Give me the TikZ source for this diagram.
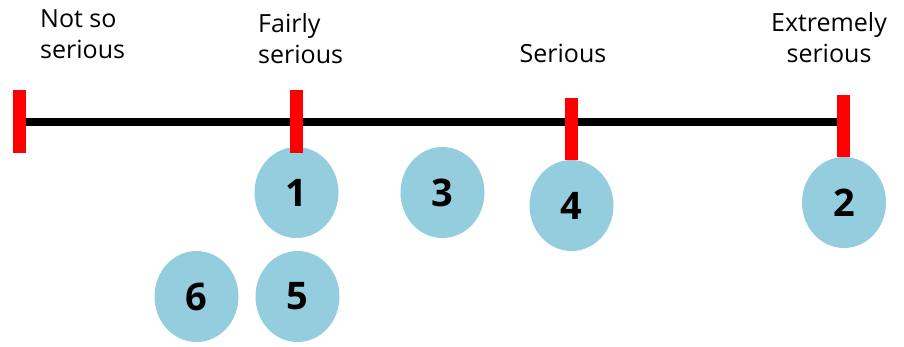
\documentclass[tikz,border=0pt]{standalone}
\usepackage{fontspec}
\setmainfont{Open Sans}
\usetikzlibrary{shapes.geometric}
\definecolor{dotblue}{RGB}{148,205,221}
\definecolor{barred}{RGB}{255,0,0}
\tikzset{
  dot/.style={ellipse,fill=dotblue,inner sep=0pt,minimum width=84pt,minimum height=91pt,
    font=\fontsize{38}{40}\selectfont\bfseries},
  lbl/.style={inner sep=0pt,font=\fontsize{25}{31}\selectfont},
  bar/.style={fill=barred},
}
\begin{document}
\begin{tikzpicture}[x=1pt,y=-1pt]
\useasboundingbox (0,0) rectangle (904,346);
% axis
\coordinate (ax0) at (20,122);
\coordinate (ax1) at (843,122);
\draw[line width=8pt] (ax0) -- (ax1);
% circles
\node[dot] (c1) at (296.5,192.5) {1};
\node[dot] (c3) at (442.5,192.5) {3};
\node[dot] (c4) at (571.5,205.5) {4};
\node[dot] (c2) at (844,202.5) {2};
\node[dot] (c6) at (196.5,296.5) {6};
\node[dot] (c5) at (297.5,296.5) {5};
% red ticks
\fill[bar] (13,90) rectangle (26,153);
\fill[bar] (290,90) rectangle (303,153);
\fill[bar] (565,98) rectangle (578,160);
\fill[bar] (837,95) rectangle (850,157);
% labels
\node[lbl,anchor=base west,align=left] (l1) at (40,58) {Not so\\serious};
\node[lbl,anchor=base west,align=left] (l2) at (258,63) {Fairly\\serious};
\node[lbl,anchor=base] (l3) at (563,62) {Serious};
\node[lbl,anchor=base,align=center] (l4) at (829,62) {Extremely\\serious};
\end{tikzpicture}
\end{document}
